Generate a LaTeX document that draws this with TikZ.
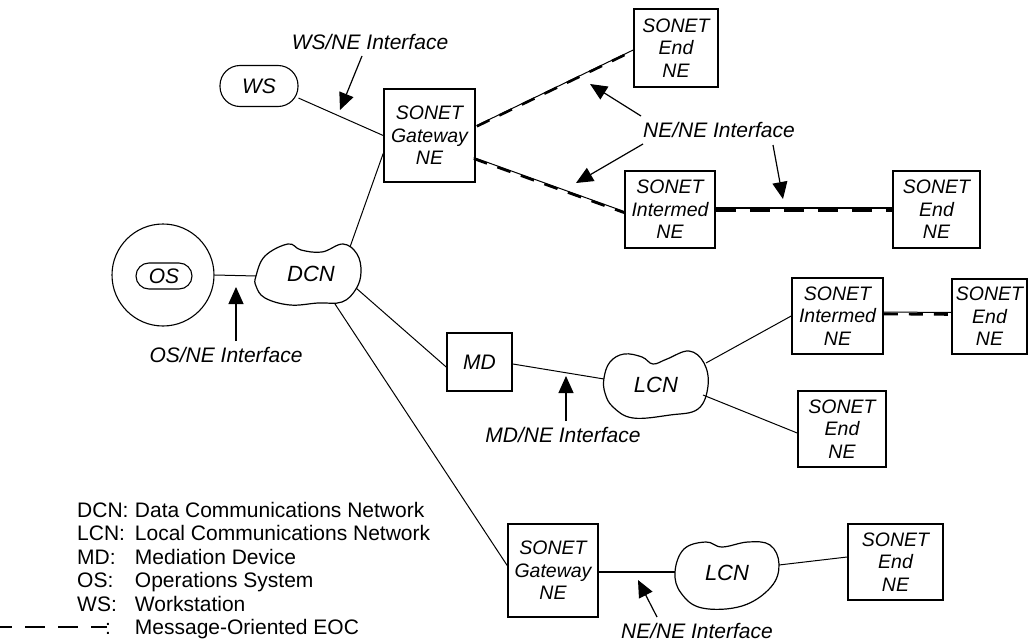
\documentclass[tikz,border=0pt]{standalone}
\usepackage{fontspec}
\setmainfont{Liberation Sans}
\usetikzlibrary{arrows.meta,calc}
\newcommand{\boxfont}{\fontsize{19.5}{22.5}\selectfont\itshape}
\newcommand{\lblfont}{\fontsize{21}{24}\selectfont\itshape}
\newcommand{\legfont}{\fontsize{21}{24}\selectfont}
\begin{document}
\begin{tikzpicture}[x=1pt,y=-1pt,
  nebox/.style={draw, line width=1.6pt, inner sep=0pt, align=center, font=\boxfont},
  link/.style={line width=1pt},
  eocthin/.style={line width=1pt},
  eocdash/.style={line width=2.6pt, dash pattern=on 14pt off 11pt},
  iface/.style={line width=1.2pt, -{Triangle[length=17pt,width=15pt]}},
  lbl/.style={font=\lblfont, inner sep=0pt},
  blob/.style={line width=1.2pt},
  legl/.style={font=\legfont, anchor=base west, inner sep=0pt}
]
\useasboundingbox (0,0) rectangle (1029,642);
\fill[white] (0,0) rectangle (1029,642);

% ---------- boxes ----------
\node[nebox, minimum width=91pt, minimum height=93pt] (gw1) at (429.5,135.5) {SONET\\Gateway\\NE};
\node[nebox, minimum width=84pt, minimum height=78pt] (endT) at (676,48) {SONET\\End\\NE};
\node[nebox, minimum width=90pt, minimum height=77pt] (im1) at (670,209.5) {SONET\\Intermed\\NE};
\node[nebox, minimum width=87pt, minimum height=77pt] (endR) at (936.5,209.5) {SONET\\End\\NE};
\node[nebox, minimum width=65pt, minimum height=58pt, font=\lblfont] (md) at (479.5,362) {MD};
\node[nebox, minimum width=91pt, minimum height=76pt] (im2) at (837.5,316) {SONET\\Intermed\\NE};
\node[nebox, minimum width=75pt, minimum height=75pt] (end3) at (989.5,316.5) {SONET\\End\\NE};
\node[nebox, minimum width=88pt, minimum height=76pt] (end4) at (842,429) {SONET\\End\\NE};
\node[nebox, minimum width=90pt, minimum height=93pt] (gw2) at (553,570.5) {SONET\\Gateway\\NE};
\node[nebox, minimum width=95pt, minimum height=76pt] (end5) at (895.5,562) {SONET\\End\\NE};

% ---------- WS and OS ----------
\node[draw, line width=1.1pt, rounded corners=20pt, minimum width=78pt, minimum height=41pt, font=\lblfont] (ws) at (259,86) {WS};
\node[draw, circle, line width=1.1pt, minimum size=102pt, inner sep=0pt] (os) at (163,275) {};
\node[draw, line width=1.1pt, rounded corners=13pt, minimum width=56pt, minimum height=26pt, inner sep=0pt, font=\lblfont] (osin) at (164,276) {OS};

% ---------- clouds ----------
\draw[blob] plot[smooth cycle, tension=0.65] coordinates {(256,276) (265,256) (288,244) (301,250) (322,252) (343,244) (357,254) (361,272) (356,289) (342,302) (318,303) (290,305) (265,298) (256,286)};
\node[font=\fontsize{22}{24}\selectfont\itshape] (dcn) at (311,274) {DCN};
\draw[blob] plot[smooth cycle, tension=0.65] coordinates {(604,378) (610,362) (624,354) (642,357) (653,364) (667,359) (689,351) (704,363) (708,386) (698,409) (670,415) (633,418) (613,407) (605,393)};
\node[font=\fontsize{22}{24}\selectfont\itshape] (lcn1) at (656,385) {LCN};
\draw[blob] plot[smooth cycle, tension=0.65] coordinates {(675,572) (684,549) (706,542) (722,547) (748,542) (770,545) (779,564) (771,587) (742,606) (702,608) (681,593)};
\node[font=\fontsize{22}{24}\selectfont\itshape] (lcn2) at (727,573) {LCN};

% cloud border points
\coordinate (dcnNE) at (350,247);
\coordinate (dcnW) at (256,276);
\coordinate (dcnE) at (356,288);
\coordinate (dcnS) at (335,304);
\coordinate (lcn1W) at (604,379);
\coordinate (lcn1NE) at (706,363);
\coordinate (lcn1SE) at (703,395);
\coordinate (lcn2W) at (675,572);
\coordinate (lcn2E) at (779,565);

% ---------- plain links ----------
\draw[link] (ws.-17) -- (gw1.west);
\draw[link] ($(gw1.west)+(0,18)$) -- (dcnNE);
\draw[link] (os.east) -- (dcnW);
\draw[link] (dcnE) -- ($(md.west)+(0,5)$);
\draw[link] (dcnS) -- ($(gw2.west)+(0,-5)$);
\draw[link] ($(md.east)+(0,2)$) -- (lcn1W);
\draw[link] (lcn1NE) -- (im2.west);
\draw[link] (lcn1SE) -- ($(end4.west)+(0,4)$);
\draw[line width=1.4pt] ($(gw2.east)+(0,1.5)$) -- (lcn2W);
\draw[link] (lcn2E) -- ($(end5.west)+(0,-5)$);

% ---------- message-oriented EOC links ----------
\draw[eocthin] ($(gw1.east)+(1,-10)$) -- ($(endT.west)+(0,2)$);
\draw[eocdash, transform canvas={yshift=-0.8pt}] ($(gw1.east)+(1,-10)$) -- ($(endT.west)+(0,2)$);
\draw[eocthin] ($(gw1.east)+(-2,22)$) -- ($(im1.west)+(0,2)$);
\draw[eocdash, transform canvas={yshift=-1.2pt}] ($(gw1.east)+(-2,22)$) -- ($(im1.west)+(0,2)$);
\draw[line width=1.8pt] ($(im1.east)+(0,-1.5)$) -- ($(endR.west)+(0,-1.5)$);
\draw[line width=3.2pt, dash pattern=on 20pt off 14pt] ($(im1.east)+(0,1)$) -- ($(endR.west)+(0,1)$);
\draw[eocthin] ($(im2.east)+(0,-4)$) -- ($(end3.west)+(0,-4)$);
\draw[line width=2.6pt, dash pattern=on 14pt off 11pt] ($(im2.east)+(0,-2)$) -- ($(end3.west)+(0,-2)$);

% ---------- interface labels and arrows ----------
\node[lbl] (lblWS) at (370,42) {WS/NE Interface};
\coordinate (tWS) at (362,56);
\coordinate (hWS) at (340,110);
\draw[iface] (tWS) -- (hWS);

\node[lbl] (lblNE1) at (719,130) {NE/NE Interface};
\coordinate (tA) at (641,116); \coordinate (hA) at (590,84);
\coordinate (tB) at (643,144); \coordinate (hB) at (576,183);
\coordinate (tC) at (773,145); \coordinate (hC) at (783,199);
\draw[iface] (tA) -- (hA);
\draw[iface] (tB) -- (hB);
\draw[iface] (tC) -- (hC);

\node[lbl] (lblOS) at (226,355) {OS/NE Interface};
\coordinate (tOS) at (236,341); \coordinate (hOS) at (236,287);
\draw[iface] (tOS) -- (hOS);

\node[lbl] (lblMD) at (563,435) {MD/NE Interface};
\coordinate (tMD) at (566,421); \coordinate (hMD) at (566,376);
\draw[iface] (tMD) -- (hMD);

\node[lbl] (lblNE2) at (697,631) {NE/NE Interface};
\coordinate (tNE2) at (657,617); \coordinate (hNE2) at (638,580);
\draw[iface] (tNE2) -- (hNE2);

% ---------- legend ----------
\node[legl] (k1) at (77,517) {DCN:\kern6pt};  \node[legl] (v1) at (k1.base east) {Data Communications Network};
\node[legl] (k2) at (77,540) {LCN:};  \node[legl] (v2) at (v1.base west |- 0,540) {Local Communications Network};
\node[legl] (k3) at (77,564) {MD:};   \node[legl] (v3) at (v1.base west |- 0,564) {Mediation Device};
\node[legl] (k4) at (77,587) {OS:};   \node[legl] (v4) at (v1.base west |- 0,587) {Operations System};
\node[legl] (k5) at (77,611) {WS:};   \node[legl] (v5) at (v1.base west |- 0,611) {Workstation};
\coordinate (dL) at (0,627); \coordinate (dR) at (107,627);
\draw[line width=2.4pt, dash pattern=on 12pt off 13pt on 20pt off 13pt on 20pt off 13pt on 20pt off 0pt] (dL) -- (dR);
\node[legl] (k6) at (105,634) {:};    \node[legl] (v6) at (v1.base west |- 0,634) {Message-Oriented EOC};
\end{tikzpicture}
\end{document}
